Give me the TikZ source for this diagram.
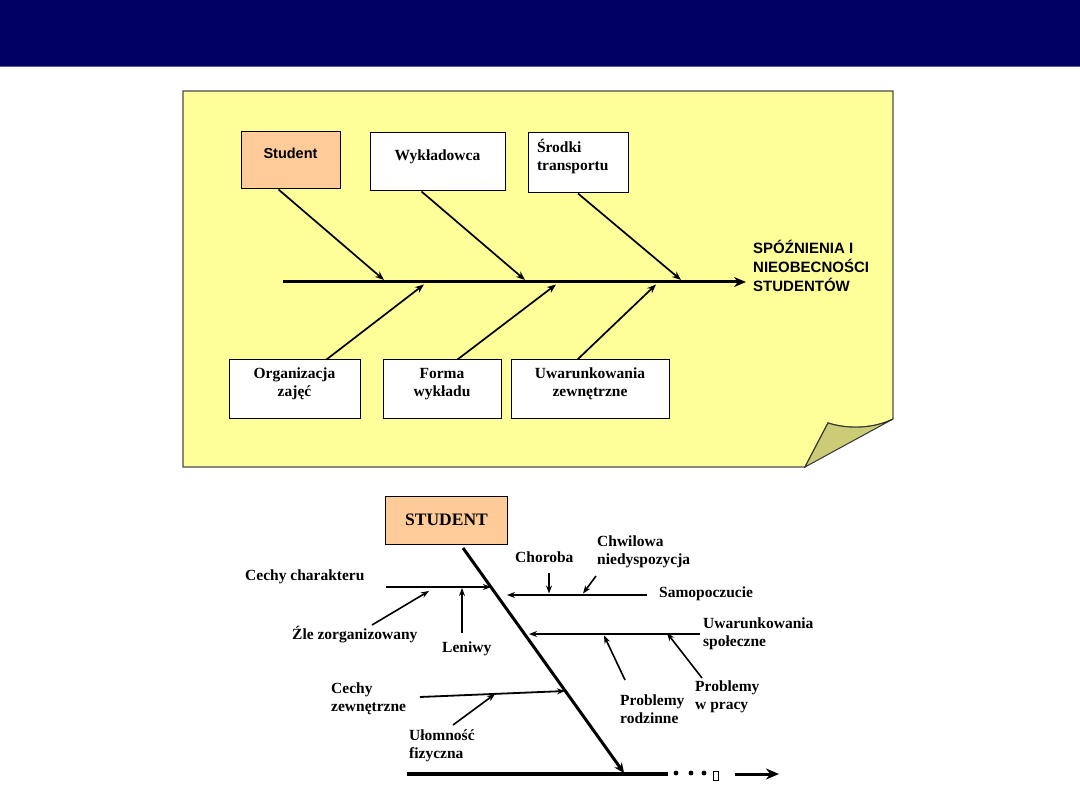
\documentclass[tikz,border=0pt]{standalone}
\usepackage{fontspec}
\setmainfont{Liberation Serif}
\newfontfamily\arialf{Liberation Sans}
\usetikzlibrary{arrows.meta}
\definecolor{hdr}{RGB}{0,0,100}
\definecolor{hdrline}{RGB}{90,90,160}
\definecolor{note}{RGB}{255,255,153}
\definecolor{fold}{RGB}{204,204,119}
\definecolor{peach}{RGB}{255,204,153}
\begin{document}
\begin{tikzpicture}[x=1pt,y=-1pt,
  box/.style={draw=black, line width=1pt, fill=white, inner sep=0pt,
    font=\bfseries\fontsize{15.5}{18}\selectfont, align=center},
  oneup/.style={text height=11pt, text depth=14pt},
  twoup/.style={text height=11pt, text depth=32pt},
  arr/.style={line width=1.7pt, -{Stealth[length=9pt,width=7pt]}},
  spine/.style={line width=3pt, -{Stealth[length=12pt,width=10pt]}},
  sarr/.style={line width=1.6pt, -{Stealth[length=8pt,width=6pt]}},
  lbl/.style={font=\bfseries\fontsize{15.5}{18}\selectfont, align=left, anchor=west, inner sep=0pt},
]
\useasboundingbox (0,0) rectangle (1080,810);
\fill[white] (0,0) rectangle (1080,810);
% header
\fill[hdr] (0,0) rectangle (1080,67);
\draw[hdrline, line width=1pt] (0,67) -- (1080,67);

% yellow note with folded corner
\draw[fill=note, draw=black!70, line width=1.3pt]
  (183,91) -- (893,91) -- (893,419)
  .. controls (875,428) and (850,430) .. (828,423)
  -- (805,467) -- (183,467) -- cycle;
\draw[fill=fold, draw=black!80, line width=1pt]
  (828,423) .. controls (850,430) and (875,428) .. (893,419) -- (805,467) -- cycle;

% ---------- top fishbone ----------
\node[box, oneup, fill=peach, minimum width=99pt, minimum height=57pt,
      font=\arialf\bfseries\fontsize{14.5}{17}\selectfont] (stud) at (290.5,160.5) {Student};
\node[box, oneup, minimum width=135pt, minimum height=58pt] (wyk) at (437.5,162) {Wykładowca};
\node[box, twoup, minimum width=100pt, minimum height=60pt, align=left,
      text width=82pt, inner xsep=9pt] (srod) at (578,163) {Środki\\transportu};
\node[box, twoup, minimum width=131pt, minimum height=59pt, text width=131pt] (org) at (294.5,389.5) {Organizacja\\zajęć};
\node[box, twoup, minimum width=118pt, minimum height=59pt, text width=118pt] (forma) at (442,389.5) {Forma\\wykładu};
\node[box, twoup, minimum width=158pt, minimum height=59pt, text width=158pt] (uwz) at (590,389.5) {Uwarunkowania\\zewnętrzne};

\node[font=\arialf\bfseries\fontsize{15}{19}\selectfont, align=left, anchor=west, inner sep=0pt]
  (eff) at (753,266) {SPÓŹNIENIA I\\NIEOBECNOŚCI\\STUDENTÓW};

\coordinate (sp0) at (283,282);
\coordinate (sp1) at (746,282);
\draw[spine] (sp0) -- (sp1);

\coordinate (t1) at (384,280);
\coordinate (t2) at (525,280);
\coordinate (t3) at (681,280);
\coordinate (b1) at (424,284.5);
\coordinate (b2) at (556,284.5);
\coordinate (b3) at (656,284.5);
\draw[arr] ([xshift=38pt]stud.south west) -- (t1);
\draw[arr] ([xshift=52pt]wyk.south west) -- (t2);
\draw[arr] (srod.south) -- (t3);
\draw[arr] ([xshift=98pt]org.north west) -- (b1);
\draw[arr] ([xshift=75pt]forma.north west) -- (b2);
\draw[arr] ([xshift=67pt]uwz.north west) -- (b3);

% ---------- bottom fishbone ----------
\node[box, fill=peach, minimum width=122pt, minimum height=48pt,
      font=\bfseries\fontsize{17.5}{20}\selectfont] (STU) at (446.5,520) {STUDENT};

\coordinate (d0) at (463,548);
\coordinate (d1) at (624,773);
\draw[line width=3pt, -{Stealth[length=10pt,width=9pt]}] (d0) -- (d1);

\coordinate (h0) at (407,774);
\coordinate (h1) at (668,774);
\draw[line width=4.5pt] (h0) -- (h1);
\fill (676,773) circle (2.4);
\fill (691,773) circle (2.4);
\fill (704,773) circle (2.4);
\draw[line width=0.6pt] (713,771.5) rectangle (718.5,780);
\coordinate (r0) at (735,774);
\coordinate (r1) at (779,774);
\draw[line width=3pt, -{Stealth[length=13pt,width=11pt]}] (r0) -- (r1);

% labels
\node[lbl] (cch) at (245,577) {Cechy charakteru};
\node[lbl] (zle) at (292,635) {Źle zorganizowany};
\node[lbl] (len) at (442,649) {Leniwy};
\node[lbl] (cze) at (331,699) {Cechy\\zewnętrzne};
\node[lbl] (ulo) at (409,746) {Ułomność\\fizyczna};
\node[lbl] (cho) at (515,557) {Choroba};
\node[lbl] (chw) at (597,551.5) {Chwilowa\\niedyspozycja};
\node[lbl] (sam) at (659,594) {Samopoczucie};
\node[lbl] (uws) at (703,634) {Uwarunkowania\\społeczne};
\node[lbl] (prr) at (620,709) {Problemy\\rodzinne};
\node[lbl] (prp) at (695,697) {Problemy\\w pracy};

% bones
\coordinate (cc0) at (386,587);
\coordinate (cc1) at (491,587);
\draw[sarr] (cc0) -- (cc1);
\coordinate (zl0) at (372,625);
\coordinate (zl1) at (429,591);
\draw[sarr] (zl0) -- (zl1);
\coordinate (le0) at (462,633);
\coordinate (le1) at (462,588);
\draw[sarr] (le0) -- (le1);

\coordinate (sa0) at (647,595);
\coordinate (sa1) at (507,595);
\draw[sarr, line width=2.2pt] (sa0) -- (sa1);
\coordinate (ch0) at (549,573);
\coordinate (ch1) at (549,593.5);
\draw[sarr] (ch0) -- (ch1);
\coordinate (cw0) at (596,576);
\coordinate (cw1) at (583,593.5);
\draw[sarr] (cw0) -- (cw1);

\coordinate (us0) at (700,634);
\coordinate (us1) at (529,634);
\draw[sarr, line width=2.2pt] (us0) -- (us1);
\coordinate (pr0) at (625,680);
\coordinate (pr1) at (604,635.5);
\draw[sarr] (pr0) -- (pr1);
\coordinate (pp0) at (702,678);
\coordinate (pp1) at (667,633);
\draw[sarr] (pp0) -- (pp1);

\coordinate (cz0) at (420,697);
\coordinate (cz1) at (565,691);
\draw[sarr, line width=1.8pt] (cz0) -- (cz1);
\coordinate (ul0) at (453,725);
\coordinate (ul1) at (495,694);
\draw[sarr] (ul0) -- (ul1);
\end{tikzpicture}
\end{document}
